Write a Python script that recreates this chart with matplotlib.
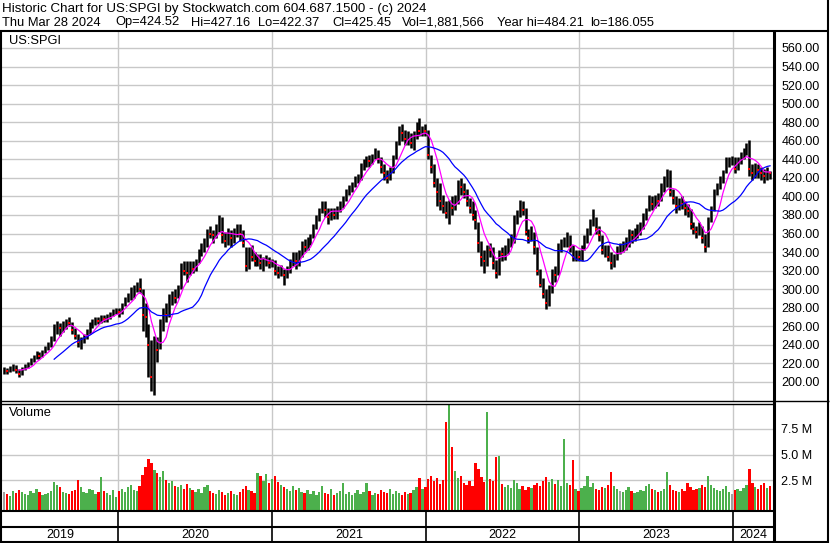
import matplotlib
matplotlib.use("Agg")
import matplotlib.pyplot as plt
import numpy as np
import pandas as pd

plt.rcParams["font.family"] = ["Liberation Sans", "DejaVu Sans"]

# weekly bars (Friday), Apr 2019 .. Mar 2024
close_2019 = [213, 212, 214, 216, 213, 209, 214, 217, 218, 224, 226, 230, 228, 232, 236, 240, 245, 255, 262, 258,
              260, 266, 264, 256, 250, 243, 245, 248, 255, 262, 265, 268, 266, 270, 268, 270, 273, 276, 278]
high_2019 = [216, 215, 217, 219, 218, 214, 216, 219, 221, 226, 229, 233, 232, 235, 239, 243, 250, 262, 266, 264,
             266, 268, 270, 265, 258, 252, 248, 252, 257, 265, 268, 270, 270, 272, 272, 273, 275, 279, 280]
low_2019 = [209, 209, 211, 212, 210, 205, 207, 213, 215, 218, 222, 225, 225, 227, 231, 235, 238, 244, 252, 250,
            254, 257, 260, 252, 246, 238, 236, 242, 246, 252, 258, 261, 262, 264, 265, 265, 268, 271, 273]

close_2020 = [275, 282, 290, 292, 295, 298, 305, 300, 272, 270, 240, 205, 240, 235, 262, 275, 272, 285, 295, 290,
              300, 325, 320, 318, 326, 322, 330, 340, 345, 348, 362, 360, 358, 365, 370, 358, 352, 360, 355, 362,
              366, 360, 350, 325, 340, 335, 330, 335, 328, 330, 332, 328]
high_2020 = [280, 285, 292, 296, 302, 304, 308, 312, 300, 285, 262, 245, 250, 248, 268, 280, 285, 295, 298, 300,
             304, 328, 330, 330, 330, 330, 333, 343, 350, 355, 365, 368, 364, 370, 380, 378, 362, 366, 364, 366,
             370, 370, 364, 345, 345, 348, 340, 338, 338, 335, 337, 335]
low_2020 = [270, 273, 282, 286, 288, 290, 297, 296, 255, 248, 205, 190, 186, 222, 236, 255, 265, 270, 283, 285,
            290, 300, 315, 308, 315, 318, 320, 328, 336, 340, 345, 355, 350, 355, 362, 350, 345, 348, 345, 350,
            356, 352, 345, 320, 322, 330, 325, 325, 322, 320, 325, 323]

close_2021 = [329, 320, 318, 322, 315, 322, 330, 335, 330, 338, 350, 346, 352, 356, 368, 378, 385, 392, 385, 378,
              385, 380, 385, 392, 395, 405, 410, 414, 418, 420, 432, 435, 440, 438, 442, 448, 440, 432, 425, 420,
              428, 440, 455, 472, 468, 462, 465, 458, 465, 475, 470, 472]
high_2021 = [333, 332, 325, 326, 322, 325, 333, 340, 340, 342, 352, 354, 356, 360, 370, 380, 388, 395, 395, 388,
             388, 388, 390, 395, 400, 408, 412, 416, 422, 424, 436, 440, 444, 445, 446, 452, 450, 442, 435, 428,
             432, 445, 460, 476, 478, 472, 470, 468, 470, 480, 484, 476]
low_2021 = [324, 315, 312, 314, 305, 312, 318, 325, 322, 325, 335, 340, 342, 348, 355, 365, 374, 382, 378, 370,
            375, 376, 376, 383, 388, 395, 402, 405, 410, 414, 418, 428, 432, 432, 435, 440, 436, 425, 418, 414,
            418, 425, 440, 455, 460, 455, 455, 452, 450, 462, 465, 465]

close_2022 = [470, 445, 432, 415, 405, 395, 390, 382, 392, 388, 395, 412, 410, 405, 395, 388, 380, 375, 350, 335,
              330, 345, 342, 328, 318, 340, 338, 345, 350, 355, 376, 380, 392, 385, 362, 355, 365, 345, 320, 305,
              295, 285, 300, 318, 315, 345, 350, 352, 360, 345, 335, 338, 335]
high_2022 = [478, 472, 445, 435, 420, 415, 402, 395, 396, 400, 402, 418, 420, 415, 408, 398, 395, 385, 372, 352,
             342, 348, 350, 345, 332, 342, 345, 348, 355, 360, 380, 385, 396, 395, 388, 365, 368, 362, 345, 322,
             312, 300, 305, 322, 325, 350, 354, 356, 362, 358, 348, 342, 342]
low_2022 = [465, 440, 425, 410, 390, 385, 382, 377, 370, 380, 385, 392, 402, 398, 390, 382, 375, 365, 340, 325,
            318, 325, 335, 322, 312, 315, 330, 332, 338, 345, 350, 370, 378, 380, 358, 350, 352, 338, 315, 302,
            290, 279, 282, 296, 308, 315, 340, 345, 345, 340, 330, 330, 330]

close_2023 = [345, 355, 360, 372, 378, 365, 358, 342, 345, 335, 328, 335, 345, 345, 348, 352, 362, 358, 360, 365,
              370, 380, 385, 398, 392, 400, 395, 410, 418, 425, 405, 398, 390, 395, 392, 388, 384, 370, 365, 362,
              368, 355, 345, 375, 385, 405, 412, 420, 425, 438, 440, 440]
high_2023 = [348, 358, 366, 376, 386, 378, 368, 358, 348, 348, 340, 338, 347, 350, 352, 356, 365, 364, 366, 370,
             372, 382, 388, 402, 400, 402, 404, 414, 422, 430, 428, 408, 400, 398, 400, 395, 392, 386, 372, 368,
             372, 368, 360, 378, 390, 408, 415, 422, 428, 442, 443, 444]
low_2023 = [330, 342, 350, 358, 368, 360, 352, 338, 335, 330, 322, 324, 332, 338, 340, 342, 345, 350, 352, 355,
            358, 365, 375, 384, 385, 388, 390, 395, 405, 410, 400, 392, 382, 385, 386, 380, 378, 365, 360, 355,
            358, 350, 340, 345, 372, 384, 402, 408, 415, 425, 432, 434]

close_2024 = [430, 440, 445, 448, 455, 430, 425, 430, 428, 425, 422, 428, 425]
high_2024 = [442, 443, 448, 452, 458, 461, 435, 436, 435, 432, 430, 432, 427]
low_2024 = [425, 428, 435, 440, 445, 422, 418, 420, 420, 418, 414, 418, 419]

# volume, millions of shares
vol_2019 = [1.3, 1.1, 0.9, 1.4, 1.2, 1.5, 1.3, 1.1, 1.0, 1.4, 1.2, 1.6, 1.3, 1.0, 1.1, 1.2, 1.4, 2.3, 2.0, 1.8,
            1.3, 1.2, 1.1, 1.4, 1.5, 2.5, 1.8, 1.3, 1.2, 1.6, 1.5, 1.1, 1.3, 2.8, 1.4, 1.2, 1.0, 1.5, 0.8]
vol_2020 = [1.4, 1.6, 1.3, 1.8, 2.0, 1.5, 1.4, 1.9, 3.0, 3.8, 4.6, 4.2, 3.5, 3.2, 2.8, 3.4, 2.5, 2.2, 2.4, 1.9,
            1.8, 2.0, 1.6, 2.1, 1.7, 1.5, 1.3, 1.6, 1.2, 1.8, 2.0, 1.4, 1.2, 1.1, 1.5, 1.3, 1.0, 1.2, 1.4, 1.1,
            1.0, 1.3, 1.6, 1.9, 1.5, 1.4, 1.2, 3.2, 2.9, 2.4, 3.1, 2.2]
vol_2021 = [2.6, 2.9, 2.3, 2.0, 1.8, 1.6, 1.4, 1.9, 1.5, 1.7, 1.3, 1.2, 1.5, 1.1, 1.4, 1.0, 1.3, 1.9, 1.2, 1.1,
            1.6, 1.0, 1.2, 1.4, 2.2, 1.1, 1.3, 1.0, 1.2, 1.5, 1.1, 1.3, 2.2, 1.4, 1.0, 1.2, 1.1, 1.5, 1.3, 1.2,
            1.6, 1.1, 1.4, 1.2, 1.0, 1.3, 1.1, 1.2, 1.5, 1.8, 2.7, 1.6]
vol_2022 = [1.8, 2.6, 2.9, 2.4, 2.7, 2.1, 2.5, 8.2, 10.0, 5.7, 3.4, 2.7, 2.9, 2.2, 2.0, 2.4, 1.9, 4.2, 3.6, 2.8,
            2.3, 9.2, 2.6, 2.4, 4.8, 4.9, 2.1, 1.8, 2.0, 1.7, 2.5, 2.2, 1.6, 1.9, 1.5, 1.8, 1.7, 2.0, 2.2, 1.9,
            2.4, 2.8, 2.3, 2.6, 2.1, 2.5, 1.9, 6.5, 2.2, 2.0, 4.5, 1.6, 1.4]
vol_2023 = [1.7, 1.9, 2.9, 1.8, 2.2, 1.6, 1.5, 1.8, 1.7, 2.0, 3.3, 1.9, 1.6, 1.4, 1.3, 1.5, 1.8, 1.4, 1.2, 1.3,
            1.5, 1.4, 1.9, 2.1, 1.6, 1.5, 1.3, 1.4, 1.6, 3.3, 2.0, 1.5, 1.4, 1.3, 1.6, 1.4, 2.2, 1.8, 1.5, 1.6,
            1.7, 2.0, 1.8, 2.9, 2.0, 1.7, 1.5, 1.4, 1.6, 1.9, 1.3, 1.1]
vol_2024 = [1.5, 1.6, 1.4, 1.7, 2.0, 3.6, 2.2, 1.8, 1.6, 2.0, 2.2, 1.7, 1.9]

years = ["2019", "2020", "2021", "2022", "2023", "2024"]
price_ticks = list(range(200, 561, 20))
vol_ticks = [2.5, 5.0, 7.5]
vol_labels = ["2.5 M", "5.0 M", "7.5 M"]

header1 = "Historic Chart for US:SPGI by Stockwatch.com 604.687.1500 - (c) 2024"
header2 = ["Thu Mar 28 2024", "Op=424.52", "Hi=427.16", "Lo=422.37", "Cl=425.45",
           "Vol=1,881,566", "Year hi=484.21", "lo=186.055"]

close = pd.Series(close_2019 + close_2020 + close_2021 + close_2022 + close_2023 + close_2024, dtype=float)
high = np.array(high_2019 + high_2020 + high_2021 + high_2022 + high_2023 + high_2024, dtype=float)
low = np.array(low_2019 + low_2020 + low_2021 + low_2022 + low_2023 + low_2024, dtype=float)
vol = np.array(vol_2019 + vol_2020 + vol_2021 + vol_2022 + vol_2023 + vol_2024)
assert len(close) == len(high) == len(low) == len(vol)

weeks = pd.date_range("2019-04-05", periods=len(close), freq="W-FRI")
ma_short = close.rolling(6).mean()
ma_long = close.rolling(18).mean()
chg = close.diff().fillna(0)

W, H = 830, 543
fig = plt.figure(figsize=(W / 100, H / 100), dpi=100)


def rect(x0, y0, x1, y1):
    return [x0 / W, 1 - y1 / H, (x1 - x0) / W, (y1 - y0) / H]


def px_text(x, y, s, size=9, **kw):
    fig.text(x / W, 1 - y / H, s, fontsize=size, va="center", **kw)


x_lo, x_hi = pd.Timestamp("2019-03-31"), pd.Timestamp("2024-04-05")
bounds = [pd.Timestamp(f"{y}-01-01") for y in range(2020, 2025)]
grid_c = "#c8c8c8"

# price panel
ax = fig.add_axes(rect(2, 31, 773, 401))
ax.vlines(weeks, low, high, color="black", lw=1.8, zorder=3)
down = chg < 0
ax.plot(weeks[down], close[down], "s", color="red", ms=2.0, mew=0, zorder=4)
ax.plot(weeks, ma_short, color="#ff00ff", lw=0.9, zorder=5)
ax.plot(weeks, ma_long, color="#0000ff", lw=0.9, zorder=5)
ax.set_xlim(x_lo, x_hi)
ax.set_ylim(179.5, 578.3)
ax.set_yticks(price_ticks)
ax.set_yticklabels([f"{v:.2f}" for v in price_ticks])
ax.yaxis.tick_right()
ax.set_xticks(bounds)
ax.tick_params(length=0, labelbottom=False, labelsize=9, pad=6)
ax.grid(True, color=grid_c, lw=1)
for s in ax.spines.values():
    s.set_visible(False)

# volume panel
axv = fig.add_axes(rect(2, 404, 773, 510))
v_lo = -0.44
colors = np.where(chg > 0, "#4cb04c", np.where(chg < 0, "#ff0000", "#a0a0a0"))
axv.bar(weeks, vol - v_lo, bottom=v_lo, width=5.5, color=colors, zorder=3)
axv.set_xlim(x_lo, x_hi)
axv.set_ylim(v_lo, 9.95)
axv.set_yticks(vol_ticks)
axv.set_yticklabels(vol_labels)
axv.yaxis.tick_right()
axv.set_xticks(bounds)
axv.tick_params(length=0, labelbottom=False, labelsize=9, pad=6)
axv.grid(True, color=grid_c, lw=1)
for s in axv.spines.values():
    s.set_visible(False)

# date strip
axd = fig.add_axes(rect(2, 511, 773, 542))
axd.set_xlim(x_lo, x_hi)
axd.set_ylim(0, 1)
axd.axis("off")
edges = [x_lo] + bounds + [x_hi]
for b in bounds:
    axd.axvline(b, color="black", lw=1.2)
for i, y in enumerate(years):
    mid = edges[i] + (edges[i + 1] - edges[i]) / 2
    axd.text(mid, 0.23, y, ha="center", va="center", fontsize=9)

# header and panel captions
px_text(2, 9, header1, size=9.6)
hx = [2, 115, 191, 258, 332, 402, 497, 590]
for x, s in zip(hx, header2):
    px_text(x, 22.5, s, size=9.3)
px_text(9, 41, "US:SPGI", size=9.3)
px_text(9, 413, "Volume", size=9.3)

# frame lines in pixel space
fr = fig.add_axes([0, 0, 1, 1])
fr.set_xlim(0, W)
fr.set_ylim(H, 0)
fr.axis("off")
fr.patch.set_visible(False)
k = dict(color="black", solid_capstyle="butt")
fr.plot([0, 829], [30.5, 30.5], lw=1.5, **k)
fr.plot([1, 1], [30, 543], lw=1.5, **k)
fr.plot([828, 828], [0, 543], lw=1.5, **k)
fr.plot([773.5, 773.5], [30, 543], lw=2.2, **k)
fr.plot([0, 829], [401, 401], lw=1.0, **k)
fr.plot([0, 773], [403.5, 403.5], lw=1.0, **k)
fr.plot([0, 773], [511, 511], lw=1.5, **k)
fr.plot([0, 773], [527, 527], lw=1.5, **k)
fr.plot([0, 829], [542, 542], lw=1.5, **k)

fig.savefig("out.png", dpi=100)
